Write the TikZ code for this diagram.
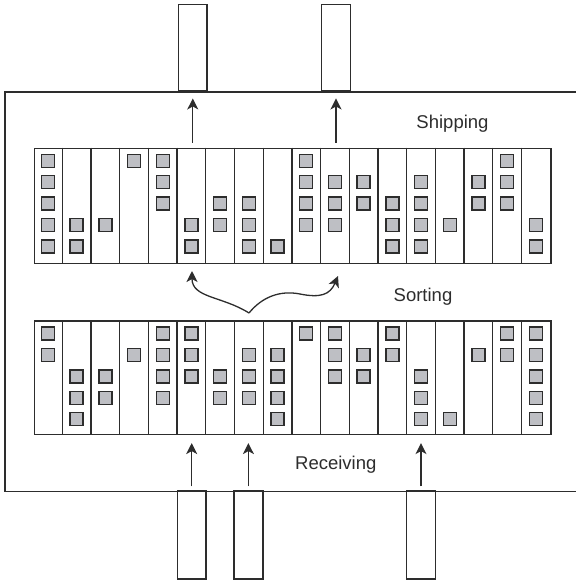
\documentclass[tikz,border=0pt]{standalone}
\usepackage{fontspec}
\setmainfont{Liberation Sans}
\usetikzlibrary{calc,arrows.meta}
\definecolor{ink}{RGB}{45,45,45}
\definecolor{crategray}{RGB}{190,191,196}
\tikzset{
  rack/.style={draw=ink, line width=1.5pt, minimum width=516.6pt, minimum height=115pt, inner sep=0pt},
  truck/.style={draw=ink, line width=1.5pt, fill=white, minimum width=28.7pt, inner sep=0pt},
  crate/.style={draw=ink, line width=1.4pt, fill=crategray},
  arr/.style={-{Stealth[length=11pt,width=11pt,inset=3pt]}, ink, line width=1.3pt},
  lbl/.style={font=\fontsize{18.5}{20}\selectfont, text=ink, anchor=base, inner sep=0pt}
}

\begin{document}
\begin{tikzpicture}[x=1pt,y=-1pt]
\useasboundingbox (0,0) rectangle (576,582);
\draw[ink, line width=1.6pt] (578,92) -- (4.7,92) -- (4.7,491.3) -- (578,491.3);
\node[rack] (ship) at (292.6,205.8) {};
\node[rack, minimum height=113.3pt] (recv) at (292.6,377.7) {};
\foreach \i in {1,...,17}{
	\draw[ink, line width=1.3pt] ($(ship.north west)+(28.7*\i,0)$) -- ($(ship.south west)+(28.7*\i,0)$);
	\draw[ink, line width=1.3pt] ($(recv.north west)+(28.7*\i,0)$) -- ($(recv.south west)+(28.7*\i,0)$);
	}
\foreach \c/\rs in {1/{1,2,3,4,5},2/{4,5},3/{4},4/{1},5/{1,2,3},6/{4,5},7/{3,4},8/{3,4,5},9/{5},
	10/{1,2,3,4},11/{2,3,4},12/{2,3},13/{3,4,5},14/{2,3,4,5},15/{4},16/{2,3},17/{1,2,3},18/{4,5}}{
	\foreach \r in \rs
		\draw[crate] ($(ship.north west)+(28.7*\c-20.85,21.4*\r-14.6)$) rectangle ++(13,13);
	}
\foreach \c/\rs in {1/{1,2},2/{3,4,5},3/{3,4},4/{2},5/{1,2,3,4},6/{1,2,3},7/{3,4},8/{2,3,4},9/{2,3,4,5},
	10/{1},11/{1,2,3},12/{2,3},13/{1,2},14/{3,4,5},15/{5},16/{2},17/{1,2},18/{1,2,3,4,5}}{
	\foreach \r in \rs
		\draw[crate] ($(recv.north west)+(28.7*\c-20.85,21.4*\r-14.6)$) rectangle ++(13,13);
	}
\node[truck, minimum height=86pt] (out1) at (192.8,47.7) {};
\node[truck, minimum height=86pt] (out2) at (336,47.7) {};
\node[truck, minimum height=88pt] (in1) at (191.7,535) {};
\node[truck, minimum height=88pt] (in2) at (248.4,535) {};
\node[truck, minimum height=88pt] (in3) at (421,535) {};
\foreach \t in {out1,out2}
	\draw[arr, shorten <=5pt, shorten >=7pt] (ship.north -| \t) -- (\t.south);
\foreach \t in {in1,in2,in3}
	\draw[arr, shorten <=4pt, shorten >=8pt] (\t.north) -- (\t.north |- recv.south);
\coordinate (fork) at (249,313);
\coordinate (pickL) at (192,271);
\coordinate (pickR) at (338,276);
\draw[arr] (fork) .. controls (222,296) and (192,298) .. (pickL);
\draw[arr] (fork) .. controls (262,297) and (280,290) .. (300,294) .. controls (320,298) and (330,295) .. (pickR);
\node[lbl] (shiplbl) at (452.5,128.3) {Shipping};
\node[lbl] (sortlbl) at (423,301) {Sorting};
\node[lbl] (recvlbl) at (335.8,469.3) {Receiving};
\end{tikzpicture}
\end{document}
